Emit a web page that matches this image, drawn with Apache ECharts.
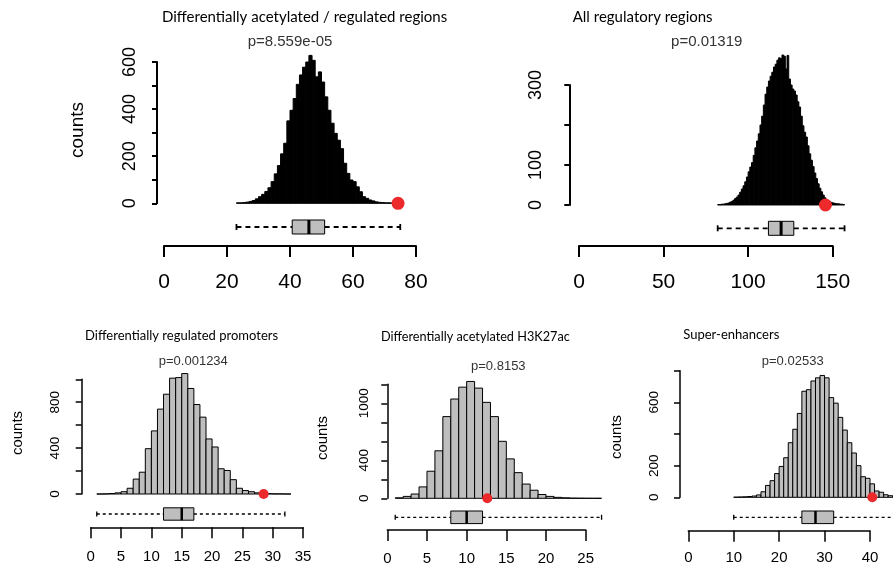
<!DOCTYPE html>
<html><head><meta charset="utf-8">
<script src="https://cdn.jsdelivr.net/npm/echarts@6/dist/echarts.min.js"></script>
<style>html,body{margin:0;padding:0;background:#fff}#c{width:893px;height:568px}</style>
</head><body><div id="c"></div><script>
// ---------------- DATA ----------------
const p1Title = 'Differentially acetylated / regulated regions';
const p1P = 'p=8.559e-05';
const p1BinStart = 23;
const p1Counts = [2,2,3,5,8,12,19,28,38,50, 66,92,125,160,210,255,350,395,445,505,
  545,578,600,628,607,537,558,515,452,395, 340,297,268,232,170,127,99,92,70,49,
  28,21,14,10,6,4,3,2,2,1, 1,1];
const p1Box = [23, 40.7, 46, 51, 75];
const p1Observed = 74.3;
const p1XTicks = [0,20,40,60,80];
const p1YTicks = [0,100,200,300,400,500,600];
const p1YLabels = [0,200,400,600];

const p2Title = 'All regulatory regions';
const p2P = 'p=0.01319';
const p2BinStart = 82;
const p2Counts = [1,1,2,2,3,4,5,7,9,12, 16,20,25,32,40,48,58,70,83,95,
  106,124,143,160,178,200,222,250,277,295, 310,322,332,345,352,362,368,366,375,372,
  340,374,315,300,290,285,275,258,245,222, 198,182,170,148,128,112,96,80,66,53,
  42,33,25,18,13,10,8,6,5,4, 3,3,2,2,1];
const p2Box = [82, 112, 119.5, 127, 157];
const p2Observed = 145.7;
const p2XTicks = [0,50,100,150];
const p2YTicks = [0,100,200,300];
const p2YLabels = [0,100,300];

const p3Title = 'Differentially regulated promoters';
const p3P = 'p=0.001234';
const p3BinStart = 1;
const p3Counts = [0,1,4,10,20,50,130,190,395,550, 740,870,1010,1015,1050,920,780,670,480,410,
  220,205,125,50,30,20,10,5,3,1, 1,0];
const p3Box = [1, 12, 15, 17, 32];
const p3Observed = 28.5;
const p3XTicks = [0,5,10,15,20,25,30,35];
const p3YTicks = [0,200,400,600,800,1000];
const p3YLabels = [0,400,800];

const p4Title = 'Differentially acetylated H3K27ac';
const p4P = 'p=0.8153';
const p4BinStart = 1;
const p4Counts = [5,20,45,120,285,500,860,1045,1170,1230, 1160,1010,860,600,415,270,150,85,40,20,
  10,5,2,1,0,0];
const p4Box = [1, 8, 10, 12, 27];
const p4Observed = 12.6;
const p4XTicks = [0,5,10,15,20,25];
const p4YTicks = [0,200,400,600,800,1000,1200];
const p4YLabels = [0,400,1000];

const p5Title = 'Super-enhancers';
const p5P = 'p=0.02533';
const p5BinStart = 10;
const p5Counts = [1,2,3,5,8,15,35,75,105,150, 195,250,345,430,530,670,680,735,755,770,
  755,630,595,505,425,345,280,200,130,120, 85,40,32,16,10,6,4,2,1,1];
const p5Box = [10, 25, 28, 32, 52];
const p5Observed = 40.5;
const p5XTicks = [0,10,20,30,40];
const p5YTicks = [0,200,400,600,800];
const p5YLabels = [0,200,600];

const yAxisName = 'counts';

// ---------------- LAYOUT ----------------
const TICKFONT = 'Liberation Sans, Arial, sans-serif';
const TITLEFONT = 'Lato, sans-serif';
const panels = [
  {title:p1Title, p:p1P, start:p1BinStart, hc:p1Counts, box:p1Box, obs:p1Observed, xt:p1XTicks, yt:p1YTicks, yl:p1YLabels,
   left:164, width:252, histTop:62, histH:141.3, boxTop:220, boxH:14, axisY:246,
   yOffset:7, yMargin:18, yFont:18, xFont:21, xMargin:26, axLw:2, yTickLen:5, xTickLen:11,
   fill:'#000', dot:13, dash:[5,4], dashLw:1.8, medLw:3, capH:3,
   titleX:162, titleY:17, titleSize:15, pX:290, pY:42, pSize:15,
   cl:{x:78, y:130, size:19}},
  {title:p2Title, p:p2P, start:p2BinStart, hc:p2Counts, box:p2Box, obs:p2Observed, xt:p2XTicks, yt:p2YTicks, yl:p2YLabels,
   left:579, width:253.7, histTop:85, histH:120, boxTop:221.3, boxH:14, axisY:246,
   yOffset:9.7, yMargin:24, yFont:18, xFont:21, xMargin:26, axLw:2, yTickLen:5, xTickLen:11,
   fill:'#000', dot:13, dash:[5,4], dashLw:1.8, medLw:3, capH:3,
   titleX:572.7, titleY:17, titleSize:15, pX:706.7, pY:42, pSize:15,
   cl:null},
  {title:p3Title, p:p3P, start:p3BinStart, hc:p3Counts, box:p3Box, obs:p3Observed, xt:p3XTicks, yt:p3YTicks, yl:p3YLabels,
   left:90.7, width:212.4, histTop:379.3, histH:114.7, boxTop:507.8, boxH:12.4, axisY:527.3,
   yOffset:9, yMargin:19, yFont:13.5, xFont:15, xMargin:22, axLw:1.5, yTickLen:6, xTickLen:11,
   fill:'#bebebe', dot:10, dash:[3,3], dashLw:1.3, medLw:2.5, capH:2.5,
   titleX:85, titleY:336, titleSize:13, pX:193.3, pY:361, pSize:13,
   cl:{x:18, y:433, size:15}},
  {title:p4Title, p:p4P, start:p4BinStart, hc:p4Counts, box:p4Box, obs:p4Observed, xt:p4XTicks, yt:p4YTicks, yl:p4YLabels,
   left:387.3, width:198.4, histTop:384.3, histH:114, boxTop:511, boxH:12.6, axisY:530,
   yOffset:0, yMargin:16, yFont:13.5, xFont:15, xMargin:21, axLw:1.5, yTickLen:6, xTickLen:11,
   fill:'#bebebe', dot:10, dash:[3,3], dashLw:1.3, medLw:2.5, capH:2.5,
   titleX:381, titleY:336.7, titleSize:12.7, pX:498.3, pY:366, pSize:13,
   cl:{x:323, y:438, size:15}},
  {title:p5Title, p:p5P, start:p5BinStart, hc:p5Counts, box:p5Box, obs:p5Observed, xt:p5XTicks, yt:p5YTicks, yl:p5YLabels,
   left:688.3, width:181.7, histTop:370.7, histH:126.6, boxTop:511, boxH:12.6, axisY:530.7,
   yOffset:8.3, yMargin:19, yFont:13.5, xFont:15, xMargin:20, axLw:1.5, yTickLen:6, xTickLen:11,
   fill:'#bebebe', dot:10, dash:[3,3], dashLw:1.3, medLw:2.5, capH:2.5,
   titleX:683.3, titleY:335, titleSize:13, pX:792.7, pY:361.7, pSize:13,
   cl:{x:617, y:437, size:15}}
];

const grid = [], xAxis = [], yAxis = [], series = [], graphic = [];

function histRender(fill){
  return function(params, api){
    const a = api.coord([api.value(0), 0]);
    const b = api.coord([api.value(1), api.value(2)]);
    return {type:'rect', shape:{x:a[0], y:b[1], width:b[0]-a[0], height:a[1]-b[1]},
      style:{fill:fill, stroke:'#000', lineWidth:1}};
  };
}
function boxRender(cfg){
  return function(params, api){
    const mn=api.value(0), q1=api.value(1), md=api.value(2), q3=api.value(3), mx=api.value(4);
    const yTop = api.coord([0,1])[1], yBot = api.coord([0,0])[1], yMid = (yTop+yBot)/2;
    const X = v => api.coord([v,0.5])[0];
    const ln = (x1,y1,x2,y2,extra) => ({type:'line', shape:{x1,y1,x2,y2},
      style:Object.assign({stroke:'#000', lineWidth:cfg.dashLw}, extra||{})});
    return {type:'group', children:[
      ln(X(mn),yMid,X(q1),yMid,{lineDash:cfg.dash}),
      ln(X(q3),yMid,X(mx),yMid,{lineDash:cfg.dash}),
      ln(X(mn),yMid-cfg.capH,X(mn),yMid+cfg.capH),
      ln(X(mx),yMid-cfg.capH,X(mx),yMid+cfg.capH),
      {type:'rect', shape:{x:X(q1), y:yTop, width:X(q3)-X(q1), height:yBot-yTop},
        style:{fill:'#bebebe', stroke:'#000', lineWidth:1}},
      ln(X(md),yTop,X(md),yBot,{lineWidth:cfg.medLw})
    ]};
  };
}

panels.forEach((c, i) => {
  const g0 = i*3, xMax = c.xt[c.xt.length-1], yMax = c.yt[c.yt.length-1];
  // histogram grid: its left edge is where the y axis line sits; x scale matches the bottom axis
  const hMin = -c.yOffset * xMax / c.width;
  grid.push({left:c.left - c.yOffset, top:c.histTop, width:c.width + c.yOffset, height:c.histH, containLabel:false, outerBoundsMode:'none'});
  xAxis.push({gridIndex:g0, type:'value', min:hMin, max:xMax, show:false});
  yAxis.push({gridIndex:g0, type:'value', min:0, max:yMax,
    axisLine:{show:true, onZero:false, lineStyle:{color:'#000', width:c.axLw}},
    axisTick:{show:true, length:c.yTickLen, customValues:c.yt, lineStyle:{color:'#000', width:c.axLw}},
    axisLabel:{show:true, customValues:c.yl, rotate:90, margin:c.yMargin, color:'#000',
      fontFamily:TICKFONT, fontSize:c.yFont, formatter: v => String(v)},
    splitLine:{show:false}});
  grid.push({left:c.left, top:c.boxTop, width:c.width, height:c.boxH, containLabel:false, outerBoundsMode:'none'});
  xAxis.push({gridIndex:g0+1, type:'value', min:0, max:xMax, show:false});
  yAxis.push({gridIndex:g0+1, type:'value', min:0, max:1, show:false});
  grid.push({left:c.left, top:c.axisY-10, width:c.width, height:10, containLabel:false, outerBoundsMode:'none'});
  xAxis.push({gridIndex:g0+2, type:'value', min:0, max:xMax, position:'bottom',
    axisLine:{show:true, onZero:false, lineStyle:{color:'#000', width:c.axLw}},
    axisTick:{show:true, length:c.xTickLen, customValues:c.xt, lineStyle:{color:'#000', width:c.axLw}},
    axisLabel:{show:true, customValues:c.xt, margin:c.xMargin, color:'#000', fontFamily:TICKFONT, fontSize:c.xFont,
      formatter: v => String(v)},
    splitLine:{show:false}});
  yAxis.push({gridIndex:g0+2, type:'value', min:0, max:1, show:false});

  const hist = c.hc.map((v, k) => [c.start + k, c.start + k + 1, v]);
  series.push({type:'custom', xAxisIndex:g0, yAxisIndex:g0, data:hist, renderItem:histRender(c.fill),
    encode:{x:[0,1], y:2}, clip:false, silent:true, animation:false});
  series.push({type:'scatter', xAxisIndex:g0, yAxisIndex:g0, data:[[c.obs, 0]], symbol:'circle',
    symbolSize:c.dot, itemStyle:{color:'#ec2a2c', opacity:1}, clip:false, silent:true, animation:false, z:5});
  series.push({type:'custom', xAxisIndex:g0+1, yAxisIndex:g0+1, data:[c.box], renderItem:boxRender(c),
    clip:false, silent:true, animation:false});

  graphic.push({type:'text', x:c.titleX, y:c.titleY, silent:true,
    style:{text:c.title, fill:'#000', font:c.titleSize + 'px ' + TITLEFONT, align:'left', verticalAlign:'middle'}});
  graphic.push({type:'text', x:c.pX, y:c.pY, silent:true,
    style:{text:c.p, fill:'#333', font:c.pSize + 'px ' + TICKFONT, align:'center', verticalAlign:'middle'}});
  if (c.cl) {
    graphic.push({type:'text', x:c.cl.x, y:c.cl.y, rotation:Math.PI/2, silent:true,
      style:{text:yAxisName, fill:'#000', font:c.cl.size + 'px ' + TICKFONT, align:'center', verticalAlign:'middle'}});
  }
});

const chart = echarts.init(document.getElementById('c'), null, {renderer:'canvas'});
chart.setOption({animation:false, backgroundColor:'#fff', grid, xAxis, yAxis, series, graphic});
</script></body></html>
